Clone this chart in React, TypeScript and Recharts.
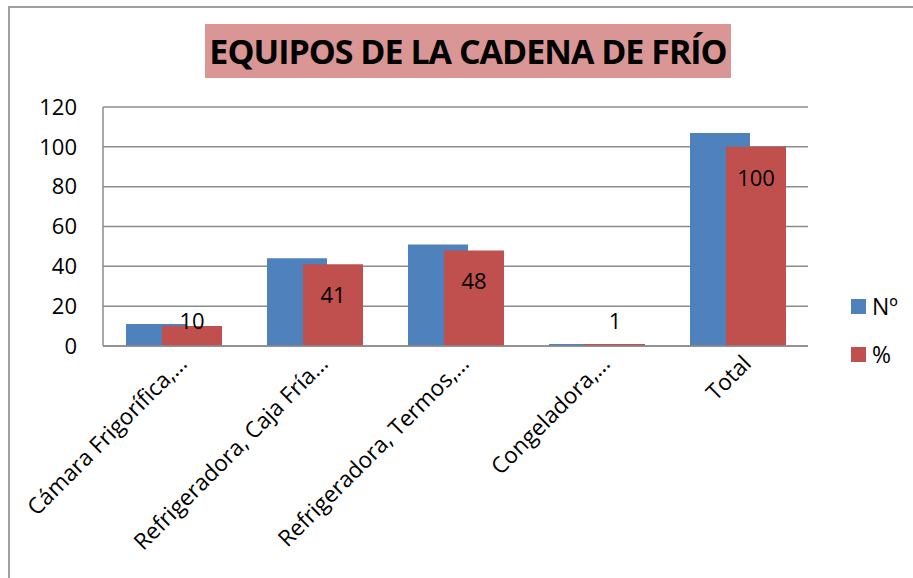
import React from "react";
import { BarChart, Bar, XAxis, YAxis, CartesianGrid, LabelList } from "recharts";

const categories = [
  "Cámara Frigorífica,…",
  "Refrigeradora, Caja Fría…",
  "Refrigeradora, Termos,…",
  "Congeladora,…",
  "Total",
];
const countValues = [11, 44, 51, 1, 107];
const percentValues = [10, 41, 48, 1, 100];
const yTicks = [0, 20, 40, 60, 80, 100, 120];
const seriesNames = ["Nº", "%"];
const colors = ["#4F81BD", "#C0504D"];

const data = categories.map((c, i) => ({
  name: c,
  n: countValues[i],
  p: percentValues[i],
}));

const FONT = "'Open Sans', sans-serif";

const XTick = (props: any) => {
  const { x, y, payload } = props;
  return (
    <g transform={`translate(${x},${y})`}>
      <text
        x={15}
        y={19}
        textAnchor="end"
        transform="rotate(-45 15 19)"
        fontFamily={FONT}
        fontSize={22.5}
        fill="#000"
      >
        {payload.value}
      </text>
    </g>
  );
};

const PctLabel = (props: any) => {
  const { x, y, width, height, value } = props;
  const ly = Math.min(y + 30, y + height - 26);
  return (
    <text
      x={x + width / 2}
      y={ly}
      textAnchor="middle"
      dominantBaseline="central"
      fontFamily={FONT}
      fontSize={22}
      fill="#000"
    >
      {value}
    </text>
  );
};

export default function App() {
  return (
    <div
      style={{
        position: "absolute",
        left: 0,
        top: 0,
        width: 913,
        height: 578,
        overflow: "hidden",
        background: "#fff",
      }}
    >
      <div
        style={{
          position: "absolute",
          left: 8,
          top: 6,
          width: 2000,
          height: 2000,
          borderLeft: "2px solid #a0a0a0",
          borderTop: "2px solid #a0a0a0",
        }}
      />
      <div
        style={{
          position: "absolute",
          left: 205,
          top: 24,
          width: 526,
          height: 54,
          background: "#D99694",
          display: "flex",
          alignItems: "center",
          justifyContent: "center",
          fontFamily: FONT,
          fontWeight: 700,
          fontSize: 34,
          letterSpacing: -1,
          color: "#000",
          whiteSpace: "nowrap",
        }}
      >
        EQUIPOS DE LA CADENA DE FRÍO
      </div>
      <div style={{ position: "absolute", left: 0, top: 0 }}>
        <BarChart
          width={913}
          height={578}
          data={data}
          margin={{ top: 107, right: 105, bottom: 0, left: 43 }}
          barSize={60}
          barGap={-24}
        >
          <CartesianGrid vertical={false} stroke="#8c8c8c" strokeWidth={1.5} />
          <XAxis
            dataKey="name"
            tick={<XTick />}
            tickLine={false}
            tickSize={0}
            tickMargin={0}
            interval={0}
            height={232}
            axisLine={{ stroke: "#8c8c8c", strokeWidth: 1.5 }}
          />
          <YAxis
            width={60}
            domain={[0, 120]}
            ticks={yTicks}
            interval={0}
            tickLine={false}
            tickSize={0}
            tickMargin={26}
            axisLine={{ stroke: "#8c8c8c", strokeWidth: 1.5 }}
            tick={{ fontFamily: FONT, fontSize: 22, fill: "#000" }}
          />
          <Bar dataKey="n" name={seriesNames[0]} fill={colors[0]} isAnimationActive={false} />
          <Bar dataKey="p" name={seriesNames[1]} fill={colors[1]} isAnimationActive={false}>
            <LabelList dataKey="p" content={<PctLabel />} />
          </Bar>
        </BarChart>
      </div>
      <div
        style={{
          position: "absolute",
          left: 851,
          top: 282,
          fontFamily: FONT,
          fontSize: 23,
          color: "#000",
        }}
      >
        {seriesNames.map((s, i) => (
          <div key={s} style={{ display: "flex", alignItems: "center", height: 48 }}>
            <div style={{ width: 15, height: 15, background: colors[i], marginRight: 6 }} />
            <span>{s}</span>
          </div>
        ))}
      </div>
    </div>
  );
}
